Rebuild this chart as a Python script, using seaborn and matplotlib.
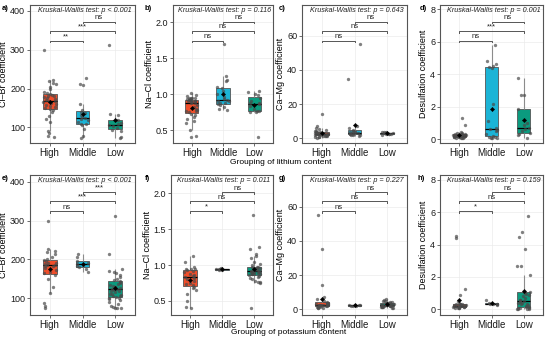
import numpy as np
import pandas as pd
import seaborn as sns
import matplotlib
matplotlib.use("Agg")
import matplotlib.pyplot as plt
from matplotlib.transforms import blended_transform_factory

plt.rcParams["font.family"] = ["Liberation Sans", "DejaVu Sans"]

groups = ["High", "Middle", "Low"]
palette = {"High": "#F04E2A", "Middle": "#1CB4D6", "Low": "#0B9B7F"}

# ---------------- Lithium grouping ----------------
li_clbr_high = [300, 223, 220, 215, 212, 205, 198, 192, 188, 186, 184, 182, 180, 178, 175, 172, 170, 169,
                167, 165, 163, 160, 157, 155, 152, 150, 148, 146, 140, 130, 122, 113, 90, 86, 79, 76]
li_clbr_mid = [226, 213, 210, 160, 145, 140, 137, 132, 128, 125, 122, 118, 113, 110, 108, 106, 95, 78, 72]
li_clbr_low = [312, 135, 132, 120, 118, 112, 108, 106, 104, 98, 94, 90, 76, 73]

li_nacl_high = [1.02, 0.99, 0.97, 0.95, 0.95, 0.94, 0.94, 0.93, 0.93, 0.92, 0.92, 0.91, 0.91, 0.90, 0.90,
                0.90, 0.89, 0.88, 0.87, 0.85, 0.82, 0.80, 0.78, 0.77, 0.76, 0.75, 0.73, 0.71, 0.68, 0.65,
                0.62, 0.60, 0.50, 0.42, 0.40]
li_nacl_mid = [1.70, 1.25, 1.20, 1.18, 1.10, 1.08, 1.05, 1.00, 0.96, 0.93, 0.92, 0.91, 0.90, 0.88, 0.87,
               0.86, 0.85, 0.82, 0.80, 0.78]
li_nacl_low = [1.05, 1.03, 1.00, 0.99, 0.95, 0.90, 0.88, 0.87, 0.86, 0.83, 0.80, 0.77, 0.76, 0.75, 0.75, 0.40]

li_camg_high = [14, 7, 6, 5.5, 5, 4.5, 4.2, 4, 3.8, 3.5, 3.3, 3.2, 3.1, 3.0, 2.8, 2.7, 2.6, 2.5, 2.4, 2.3,
                2.2, 2.0, 1.9, 1.8, 1.6, 1.5, 1.4, 1.2, 1.0, 0.8, 0.6, 0.5]
li_camg_mid = [55, 35, 7, 6, 5, 4.5, 4, 3.8, 3.5, 3.2, 3, 2.8, 2.6, 2.4, 2.2, 2, 1.8, 1.5]
li_camg_low = [4, 3.8, 3.5, 3.3, 3.2, 3.0, 2.9, 2.8, 2.6, 2.5, 2.3, 2.0]

li_des_high = [1.3, 0.9, 0.45, 0.4, 0.38, 0.35, 0.33, 0.3, 0.3, 0.28, 0.27, 0.25, 0.25, 0.24, 0.22, 0.21,
               0.2, 0.2, 0.19, 0.18, 0.17, 0.16, 0.15, 0.14, 0.13, 0.12, 0.1, 0.1, 0.08, 0.06]
li_des_mid = [5.8, 4.8, 4.6, 4.5, 4.45, 4.4, 2.2, 1.15, 0.7, 0.65, 0.55, 0.5, 0.3, 0.2, 0.15, 0.12, 0.1,
              0.08, 0.05]
li_des_low = [3.75, 2.75, 2.7, 1.85, 1.0, 0.85, 0.7, 0.65, 0.5, 0.4, 0.3, 0.25, 0.1]

# ---------------- Potassium grouping ----------------
k_clbr_high = [298, 228, 222, 220, 215, 205, 200, 198, 195, 192, 190, 188, 186, 185, 184, 182, 178, 172,
               168, 164, 160, 150, 130, 113, 88, 80, 75]
k_clbr_mid = [215, 207, 196, 192, 188, 186, 183, 180, 175, 168]
k_clbr_low = [312, 215, 175, 170, 168, 165, 160, 155, 150, 147, 145, 143, 140, 138, 135, 132, 130, 128,
              126, 125, 124, 122, 120, 118, 115, 112, 110, 108, 106, 105, 104, 102, 100, 98, 95, 90, 85,
              80, 78, 76, 75, 74]

k_nacl_high = [1.12, 1.05, 0.97, 0.95, 0.94, 0.94, 0.93, 0.92, 0.90, 0.88, 0.86, 0.85, 0.84, 0.82, 0.80,
               0.78, 0.75, 0.73, 0.72, 0.70, 0.68, 0.65, 0.60, 0.50, 0.42, 0.40]
k_nacl_mid = [0.96, 0.95, 0.945, 0.94, 0.94, 0.935, 0.93]
k_nacl_low = [1.70, 1.25, 1.23, 1.15, 1.12, 1.10, 1.05, 1.02, 1.00, 0.98, 0.97, 0.97, 0.96, 0.95, 0.95,
              0.94, 0.93, 0.93, 0.92, 0.92, 0.91, 0.91, 0.90, 0.90, 0.89, 0.88, 0.88, 0.87, 0.87, 0.86,
              0.85, 0.83, 0.82, 0.80, 0.78, 0.77, 0.76, 0.75, 0.40]

k_camg_high = [55, 35, 14, 7, 6, 5, 4.5, 4, 3.8, 3.5, 3.3, 3.2, 3, 2.8, 2.7, 2.6, 2.5, 2.4, 2.3, 2.2, 2.0,
               1.8, 1.6, 1.4, 1.2, 1.0, 0.8, 0.5]
k_camg_mid = [2.8, 2.6, 2.5, 2.3, 2.2, 2.0, 1.9]
k_camg_low = [6, 5.5, 5, 4.8, 4.5, 4.2, 4, 3.8, 3.6, 3.5, 3.3, 3.2, 3, 2.9, 2.8, 2.7, 2.6, 2.5, 2.4, 2.3,
              2.2, 2.1, 2.0, 1.9, 1.8, 1.7, 1.6, 1.5, 1.3, 1.1, 1.0, 0.8]

k_des_high = [4.55, 4.4, 1.25, 0.9, 0.5, 0.4, 0.35, 0.33, 0.3, 0.3, 0.28, 0.26, 0.25, 0.24, 0.22, 0.2, 0.2,
              0.19, 0.18, 0.17, 0.15, 0.14, 0.13, 0.12, 0.1, 0.1, 0.08, 0.06]
k_des_mid = [0.6, 0.38, 0.35, 0.33, 0.32, 0.3, 0.28]
k_des_low = [5.75, 4.8, 4.45, 3.7, 2.7, 2.65, 2.1, 1.1, 1.05, 1.0, 0.95, 0.9, 0.8, 0.7, 0.6, 0.55, 0.5,
             0.45, 0.4, 0.38, 0.35, 0.3, 0.25, 0.2, 0.15, 0.12, 0.1, 0.08, 0.06, 0.05, 0.04, 0.03, 0.02]

# panel texts
panel_letters = ["a)", "b)", "c)", "d)", "e)", "f)", "g)", "h)"]
ylabels = ["Cl–Br coefficient", "Na–Cl coefficient", "Ca–Mg coefficient", "Desulfation coefficient"] * 2
kw_texts = ["Kruskal-Wallis test: p < 0.001", "Kruskal-Wallis test: p = 0.116",
            "Kruskal-Wallis test: p = 0.643", "Kruskal-Wallis test: p = 0.001",
            "Kruskal-Wallis test: p < 0.001", "Kruskal-Wallis test: p = 0.011",
            "Kruskal-Wallis test: p = 0.227", "Kruskal-Wallis test: p = 0.159"]
# significance labels: (High-Middle, High-Low, Middle-Low)
sig_labels = [("**", "***", "ns"), ("ns", "ns", "ns"), ("ns", "ns", "ns"), ("ns", "***", "ns"),
              ("ns", "***", "***"), ("*", "ns", "ns"), ("ns", "ns", "ns"), ("*", "ns", "ns")]
xlabels = ["Grouping of lithium content", "Grouping of potassium content"]

datasets = [
    (li_clbr_high, li_clbr_mid, li_clbr_low), (li_nacl_high, li_nacl_mid, li_nacl_low),
    (li_camg_high, li_camg_mid, li_camg_low), (li_des_high, li_des_mid, li_des_low),
    (k_clbr_high, k_clbr_mid, k_clbr_low), (k_nacl_high, k_nacl_mid, k_nacl_low),
    (k_camg_high, k_camg_mid, k_camg_low), (k_des_high, k_des_mid, k_des_low),
]
ylims = [(60, 415), (0.32, 2.24), (-2.7, 78), (-0.23, 8.26),
         (57, 417), (0.305, 2.255), (-3.3, 78.5), (-0.35, 8.3)]
yticks = [[100, 200, 300, 400], [0.5, 1.0, 1.5, 2.0], [0, 20, 40, 60], [0, 2, 4, 6, 8]] * 2
ytickfmt = ["{:.0f}", "{:.1f}", "{:.0f}", "{:.0f}"] * 2

W, H = 550, 339
# axes rectangles in pixels: left, right, top, bottom
rects = [(30, 135, 5, 143), (173, 273, 5, 143), (302, 407, 5, 143), (440, 543, 5, 143),
         (30, 135, 175, 315), (171, 273, 175, 315), (302, 407, 175, 315), (440, 543, 175, 315)]
letter_pos = [(2, 8), (145, 8), (279, 8), (420, 8), (2, 179), (145, 179), (279, 179), (418, 179)]

fig = plt.figure(figsize=(W / 100, H / 100), dpi=100)
np.random.seed(7)

line_grey = "#555555"

for i in range(8):
    l, r, t, b = rects[i]
    ax = fig.add_axes([l / W, 1 - b / H, (r - l) / W, (b - t) / H])
    hi, mi, lo = datasets[i]
    df = pd.DataFrame({
        "group": ["High"] * len(hi) + ["Middle"] * len(mi) + ["Low"] * len(lo),
        "value": list(hi) + list(mi) + list(lo),
    })
    sns.boxplot(data=df, x="group", y="value", order=groups, hue="group", hue_order=groups,
                palette=palette, saturation=1, width=0.42, showfliers=False, showcaps=False,
                linecolor=line_grey, linewidth=0.6, legend=False,
                medianprops=dict(color="black", linewidth=0.9),
                whiskerprops=dict(color="#8c8c8c", linewidth=0.8),
                ax=ax, zorder=2)
    sns.stripplot(data=df, x="group", y="value", order=groups, color="#4a4a4a", alpha=0.7,
                  size=2.4, jitter=0.2, linewidth=0, ax=ax, zorder=3)
    sns.pointplot(data=df, x="group", y="value", order=groups, estimator="mean", errorbar=None,
                  linestyle="none", marker="D", color="black", markersize=2.2,
                  markeredgewidth=0.3, ax=ax, zorder=4)

    ax.set_xlim(-0.6, 2.6)
    ax.set_ylim(*ylims[i])
    ax.set_yticks(yticks[i])
    ax.set_yticklabels([ytickfmt[i].format(v) for v in yticks[i]])
    ax.set_xlabel("")
    ax.set_ylabel(ylabels[i], fontsize=6.5, labelpad=1.5)
    ax.grid(True, color="#ebebeb", linewidth=0.5)
    ax.set_axisbelow(True)
    for s in ax.spines.values():
        s.set_color(line_grey)
        s.set_linewidth(0.8)
    ax.tick_params(axis="both", length=2, width=0.6, color=line_grey, labelsize=7,
                   labelcolor="#1a1a1a", pad=1.5)
    ax.tick_params(axis="y", labelsize=6.5)

    trans = blended_transform_factory(ax.transData, ax.transAxes)
    pairs = [(0, 1, 0.742), (0, 2, 0.812), (1, 2, 0.878)]
    for (x1, x2, yf), lab in zip(pairs, sig_labels[i]):
        ax.plot([x1, x1, x2, x2], [yf - 0.012, yf, yf, yf - 0.012], transform=trans,
                color=line_grey, linewidth=0.7, clip_on=False, zorder=5)
        ax.text((x1 + x2) / 2, yf + 0.004, lab, transform=trans, ha="center", va="bottom",
                fontsize=5.5, color="#222222")
    ax.text(0.52, 0.962, kw_texts[i], transform=ax.transAxes, ha="center", va="center",
            fontsize=5.2, style="italic", color="#222222")

    lx, ly = letter_pos[i]
    fig.text(lx / W, 1 - ly / H, panel_letters[i], fontsize=5.5, fontweight="bold",
             ha="left", va="center")

fig.text(281 / W, 1 - 163 / H, xlabels[0], fontsize=6, ha="center", va="center")
fig.text(289 / W, 1 - 332 / H, xlabels[1], fontsize=6, ha="center", va="center")

fig.savefig("out.png", dpi=100)
